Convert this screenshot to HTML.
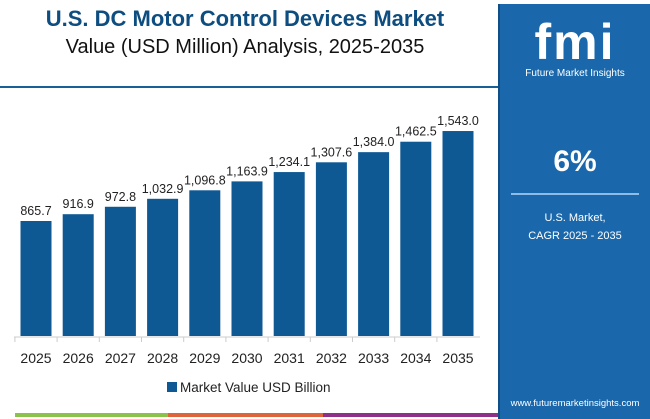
<!DOCTYPE html>
<html><head><meta charset="utf-8"><style>
body{margin:0;width:650px;height:419px;overflow:hidden;background:#fff;font-family:"Liberation Sans",sans-serif;position:relative}
.t{position:absolute;left:0;width:490px;text-align:center;color:#0d4d80}
</style></head><body>
<div class="t" style="top:6px;font-size:22px;font-weight:bold">U.S. DC Motor Control Devices Market</div>
<div class="t" style="top:36px;font-size:20px;color:#111">Value (USD Million) Analysis, 2025-2035</div>
<div style="position:absolute;left:0;top:86px;width:500px;height:2px;background:#1a5f96"></div>
<svg id="c" width="500" height="419" style="position:absolute;left:0;top:0"></svg>
<div style="position:absolute;left:498px;top:4px;width:150px;height:415px;background:#1a68ab;border-left:2px solid #0f4f85;color:#fff;text-align:center">
 <div style="margin-top:12px;font-size:50px;font-weight:bold;letter-spacing:2px;line-height:52px">fmi</div>
 <div style="font-size:10px">Future Market Insights</div>
 <div style="margin-top:66px;font-size:30px;font-weight:bold">6%</div>
 <div style="margin:14px auto 0;width:128px;height:2px;background:#8cbde6"></div>
 <div style="margin-top:14px;font-size:11px;line-height:18px">U.S. Market,<br>CAGR 2025 - 2035</div>
 <div style="position:absolute;bottom:10px;width:100%;font-size:9.5px">www.futuremarketinsights.com</div>
</div>
<div style="position:absolute;left:15px;top:413px;width:153px;height:4px;background:#8bc34a"></div>
<div style="position:absolute;left:168px;top:413px;width:155px;height:4px;background:#e0643a"></div>
<div style="position:absolute;left:323px;top:413px;width:175px;height:4px;background:#8e2f88"></div>
<script>
const years=["2025","2026","2027","2028","2029","2030","2031","2032","2033","2034","2035"];
const values=[865.7,916.9,972.8,1032.9,1096.8,1163.9,1234.1,1307.6,1384.0,1462.5,1543.0];
const labels=["865.7","916.9","972.8","1,032.9","1,096.8","1,163.9","1,234.1","1,307.6","1,384.0","1,462.5","1,543.0"];
const svg=document.getElementById('c');const NS='http://www.w3.org/2000/svg';
const base=336,k=115/865.7,x0=36,step=42.2,bw=31;
const xs=i=>x0+i*step, ys=v=>base-v*k;
function mk(t,a,txt){const e=document.createElementNS(NS,t);for(const n in a)e.setAttribute(n,a[n]);if(txt)e.textContent=txt;svg.appendChild(e);return e;}
const ax=mk('line',{x1:14,x2:480,y1:base+1,y2:base+1,stroke:'#ccc'});


years.forEach((y,i)=>{
 const b=mk('rect',{x:xs(i)-bw/2,y:ys(values[i]),width:bw,height:base-ys(values[i]),fill:'#0e5994'});
 
 
 const v=mk('text',{x:xs(i),y:ys(values[i])-6,'text-anchor':'middle','font-size':12.5,fill:'#222'},labels[i]);
 
 
 const t=mk('text',{x:xs(i),y:363,'text-anchor':'middle','font-size':14,fill:'#222'},y);
 
 
 const tk=mk('line',{x1:xs(i)-step/2,x2:xs(i)-step/2,y1:base+1,y2:base+6,stroke:'#ccc'});
 
 
});
const ls=mk('rect',{x:167,y:382,width:10,height:10,fill:'#0e5994'});


const lt=mk('text',{x:180,y:392,'font-size':13.5,fill:'#222'},'Market Value USD Billion');


</script>
</body></html>
